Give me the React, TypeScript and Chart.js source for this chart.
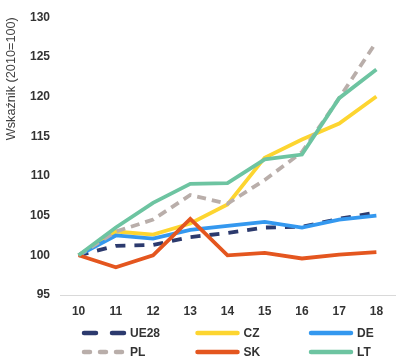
import React, { useEffect, useRef } from "react";
import { Chart, registerables } from "chart.js";

Chart.register(...registerables);

const categories = ["10", "11", "12", "13", "14", "15", "16", "17", "18"];
const ue28 = [100, 101.2, 101.3, 102.3, 102.8, 103.5, 103.6, 104.6, 105.4];
const cz = [100, 103.0, 102.6, 104.0, 106.4, 112.3, 114.6, 116.6, 120.0];
const de = [100, 102.5, 102.1, 103.2, 103.7, 104.2, 103.5, 104.5, 105.0];
const pl = [100, 103.0, 104.5, 107.6, 106.5, 109.5, 113.0, 119.8, 126.9];
const sk = [100, 98.5, 100.0, 104.6, 100.0, 100.3, 99.6, 100.1, 100.4];
const lt = [100, 103.5, 106.6, 109.0, 109.1, 112.1, 112.7, 119.8, 123.4];
const seriesNames = ["UE28", "CZ", "DE", "PL", "SK", "LT"];
const yTitle = "Wskaźnik (2010=100)";

const colors: Record<string, string> = {
  UE28: "#2c3a6e",
  CZ: "#fdd530",
  DE: "#3498ef",
  PL: "#b9aeaa",
  SK: "#e4561f",
  LT: "#6dc4a1",
};
const chartDash: Record<string, number[]> = {
  UE28: [10, 9],
  PL: [9, 6],
};
const legendDash: Record<string, number[]> = {
  UE28: [12, 16],
  PL: [6, 10],
};

const seriesData: Record<string, number[]> = { UE28: ue28, CZ: cz, DE: de, PL: pl, SK: sk, LT: lt };

const FONT = "'Liberation Sans', Arial, sans-serif";

const legendPlugin = {
  id: "gridLegend",
  afterDraw(chart: any) {
    const ctx = chart.ctx;
    const area = chart.chartArea;
    ctx.save();
    seriesNames.forEach((name, i) => {
      const col = i % 3;
      const row = Math.floor(i / 3);
      const x0 = area.left + 22 + col * 113.5;
      const y = area.bottom + 38 + row * 19;
      ctx.strokeStyle = colors[name];
      ctx.lineWidth = 4.5;
      ctx.lineCap = "round";
      ctx.setLineDash(legendDash[name] || []);
      ctx.beginPath();
      ctx.moveTo(x0 + 2, y);
      ctx.lineTo(x0 + 42, y);
      ctx.stroke();
      ctx.setLineDash([]);
      ctx.fillStyle = "#333333";
      ctx.font = "bold 12px " + FONT;
      ctx.textBaseline = "middle";
      ctx.textAlign = "left";
      ctx.fillText(name, x0 + 48, y + 1);
    });
    ctx.restore();
  },
};

export default function App() {
  const ref = useRef<HTMLCanvasElement | null>(null);
  useEffect(() => {
    if (!ref.current) return;
    const drawOrder = [...seriesNames].reverse();
    const chart = new Chart(ref.current, {
      type: "line",
      data: {
        labels: categories,
        datasets: drawOrder.map((name) => ({
          label: name,
          data: seriesData[name],
          borderColor: colors[name],
          backgroundColor: colors[name],
          borderWidth: 3.8,
          borderDash: chartDash[name] || [],
          borderCapStyle: "butt",
          pointRadius: 0,
          tension: 0,
          fill: false,
        })),
      },
      options: {
        animation: false,
        responsive: false,
        devicePixelRatio: 1,
        layout: { padding: { top: 15, right: 17, bottom: 40, left: 0 } },
        plugins: {
          legend: { display: false },
          tooltip: { enabled: false },
        },
        scales: {
          x: {
            offset: true,
            grid: { display: false, drawTicks: false },
            border: { display: true, color: "#d9d9d9", width: 1 },
            ticks: {
              padding: 9,
              color: "#333333",
              font: { family: FONT, size: 12, weight: "bold" },
              maxRotation: 0,
            },
            afterFit: (s: any) => {
              s.height = 28;
            },
          },
          y: {
            min: 95,
            max: 130,
            grid: { display: false, drawTicks: false },
            border: { display: false },
            ticks: {
              stepSize: 5,
              padding: 10,
              color: "#333333",
              font: { family: FONT, size: 12, weight: "bold" },
            },
            title: {
              display: true,
              text: yTitle,
              align: "end",
              color: "#404040",
              font: { family: FONT, size: 12.7, weight: "normal" },
              padding: { top: 4, bottom: 0 },
            },
            afterFit: (s: any) => {
              s.width = 60;
            },
          },
        },
      },
      plugins: [legendPlugin],
    } as any);
    return () => chart.destroy();
  }, []);
  return (
    <div style={{ position: "fixed", left: 0, top: 0, width: 412, height: 363, background: "#fff" }}>
      <canvas ref={ref} width={412} height={363} style={{ width: 412, height: 363 }} />
    </div>
  );
}
